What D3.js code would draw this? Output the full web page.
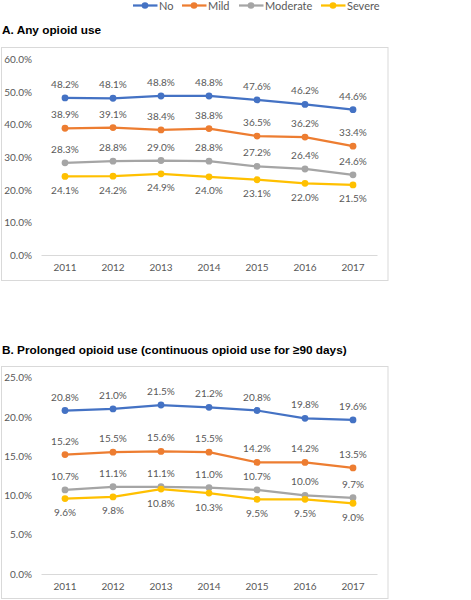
<!DOCTYPE html>
<html><head><meta charset="utf-8">
<script src="https://cdn.jsdelivr.net/npm/d3@7"></script>
<style>body{margin:0;background:#fff;} svg{display:block;}</style>
</head><body>
<svg id="chart" width="471" height="600"></svg>
<script>
const years = ["2011","2012","2013","2014","2015","2016","2017"];
const seriesNames = ["No","Mild","Moderate","Severe"];
const colors = ["#4472C4","#ED7D31","#A5A5A5","#FFC000"];
// Panel A: Any opioid use (%)
const anyNo = [48.2,48.1,48.8,48.8,47.6,46.2,44.6];
const anyMild = [38.9,39.1,38.4,38.8,36.5,36.2,33.4];
const anyModerate = [28.3,28.8,29.0,28.8,27.2,26.4,24.6];
const anySevere = [24.1,24.2,24.9,24.0,23.1,22.0,21.5];
const anyTicks = [0,10,20,30,40,50,60];
// Panel B: Prolonged opioid use (%)
const proNo = [20.8,21.0,21.5,21.2,20.8,19.8,19.6];
const proMild = [15.2,15.5,15.6,15.5,14.2,14.2,13.5];
const proModerate = [10.7,11.1,11.1,11.0,10.7,10.0,9.7];
const proSevere = [9.6,9.8,10.8,10.3,9.5,9.5,9.0];
const proTicks = [0,5,10,15,20,25];

const svg = d3.select("#chart");
const FONT = "Lato, 'Open Sans', sans-serif";

// Legend
const legendX = [133,182,239,321];
const lg = svg.append("g");
seriesNames.forEach((name,i)=>{
  const g = lg.append("g").attr("transform",`translate(${legendX[i]},5.5)`);
  g.append("line").attr("x1",0).attr("x2",24.5).attr("y1",0).attr("y2",0)
    .attr("stroke",colors[i]).attr("stroke-width",2.25);
  g.append("circle").attr("cx",12).attr("cy",0).attr("r",3.3).attr("fill",colors[i]);
  g.append("text").attr("x",26).attr("y",4).text(name)
    .attr("font-family",FONT).attr("font-size",11).attr("fill","#595959");
});

function panel(opts){
  const {title, titleY, boxTop, boxBottom, y0, yTop, maxV, ticks, series, yearY} = opts;
  svg.append("text").attr("x",2).attr("y",titleY).text(title)
    .attr("font-family","'Liberation Sans', Arial, sans-serif").attr("font-weight","bold")
    .attr("font-size",opts.titleSize).attr("fill","#000");
  svg.append("rect").attr("x",1.5).attr("y",boxTop).attr("width",386.5).attr("height",boxBottom-boxTop)
    .attr("fill","none").attr("stroke","#d9d9d9").attr("stroke-width",1);
  const x = d3.scaleBand().domain(years).range([41,377]);
  const y = d3.scaleLinear().domain([0,maxV]).range([y0,yTop]);
  const yAxis = d3.axisLeft(y).tickValues(ticks).tickSize(0).tickPadding(0)
    .tickFormat(d=>d3.format(".1f")(d)+"%");
  const ya = svg.append("g").attr("transform","translate(32,0)").call(yAxis);
  ya.select(".domain").remove();
  ya.selectAll("text").attr("font-family",FONT).attr("font-size",10).attr("fill","#595959");
  const xAxis = d3.axisBottom(x).tickSize(0).tickPadding(0);
  const xa = svg.append("g").attr("transform",`translate(0,${y0})`).call(xAxis);
  xa.select(".domain").attr("stroke","#d9d9d9").attr("stroke-width",1);
  xa.selectAll("text").attr("font-family",FONT).attr("font-size",10).attr("fill","#595959")
    .attr("dy",null).attr("y",yearY-y0+3.5);
  const line = d3.line().x((d,i)=>x(years[i])+x.bandwidth()/2).y(d=>y(d));
  series.forEach((vals,si)=>{
    svg.append("path").datum(vals).attr("d",line).attr("fill","none")
      .attr("stroke",colors[si]).attr("stroke-width",2.25).attr("stroke-linejoin","round");
    svg.append("g").selectAll("circle").data(vals).join("circle")
      .attr("cx",(d,i)=>x(years[i])+x.bandwidth()/2).attr("cy",d=>y(d)).attr("r",3.4)
      .attr("fill",colors[si]);
    const below = si===3;
    svg.append("g").selectAll("text").data(vals).join("text")
      .attr("x",(d,i)=>x(years[i])+x.bandwidth()/2)
      .attr("y",d=>y(d)+(below?14:-13.5)+3.5)
      .attr("text-anchor","middle")
      .attr("font-family",FONT).attr("font-size",10).attr("fill","#595959")
      .text(d=>d3.format(".1f")(d)+"%");
  });
}

panel({title:"A. Any opioid use", titleY:33.5, titleSize:11.8, boxTop:47.5, boxBottom:280.5,
  y0:255, yTop:59.5, maxV:60, ticks:anyTicks, yearY:267.7,
  series:[anyNo,anyMild,anyModerate,anySevere]});
panel({title:"B. Prolonged opioid use (continuous opioid use for \u226590 days)", titleY:354, titleSize:11.8,
  boxTop:366.5, boxBottom:598.5, y0:574, yTop:377.5, maxV:25, ticks:proTicks, yearY:586.7,
  series:[proNo,proMild,proModerate,proSevere]});
</script>
</body></html>
